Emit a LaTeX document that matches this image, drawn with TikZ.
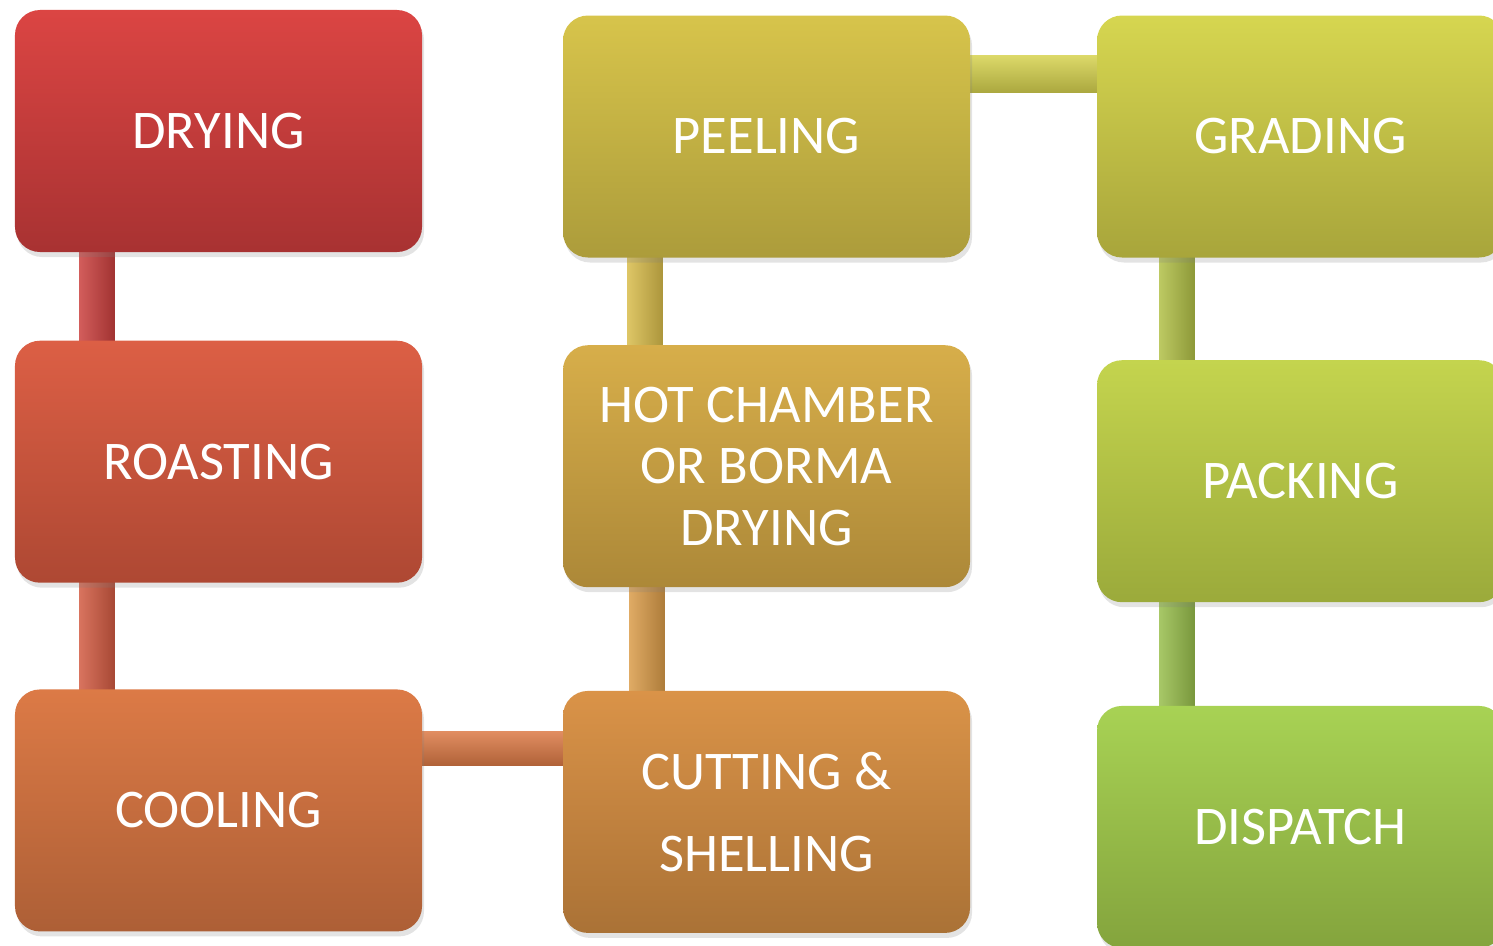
\documentclass[tikz,border=0pt]{standalone}
\usepackage{fontspec}
\setmainfont{Carlito}
\usetikzlibrary{positioning, calc, shadows, backgrounds}

\definecolor{dryingTop}{HTML}{DB4543}
\definecolor{dryingBot}{HTML}{A83232}
\definecolor{roastingTop}{HTML}{DC5F45}
\definecolor{roastingBot}{HTML}{AE4833}
\definecolor{coolingTop}{HTML}{DC7A46}
\definecolor{coolingBot}{HTML}{AD5F36}
\definecolor{peelingTop}{HTML}{D7C44B}
\definecolor{peelingBot}{HTML}{AC9C3B}
\definecolor{hotTop}{HTML}{D7AE4A}
\definecolor{hotBot}{HTML}{AC8838}
\definecolor{cuttingTop}{HTML}{DA9348}
\definecolor{cuttingBot}{HTML}{AA7236}
\definecolor{gradingTop}{HTML}{D6D650}
\definecolor{gradingBot}{HTML}{A8A53B}
\definecolor{packingTop}{HTML}{C4D44E}
\definecolor{packingBot}{HTML}{9BAA3B}
\definecolor{dispatchTop}{HTML}{A8D254}
\definecolor{dispatchBot}{HTML}{84A43D}

\tikzset{
  stage/.style={rectangle, rounded corners=5mm, minimum width=81.4mm, minimum height=48.4mm,
    inner sep=0pt, text=white, align=center, font=\fontsize{31}{35}\selectfont,
    drop shadow={opacity=0.22, shadow xshift=0.4mm, shadow yshift=-1mm}},
  vpipe/.style={left color=#1!85!white, middle color=#1, right color=#1!80!black},
  hpipe/.style={top color=#1!85!white, middle color=#1, bottom color=#1!80!black}
}

\begin{document}
\begin{tikzpicture}[x=0.2mm, y=-0.2mm]
\useasboundingbox (0,0) rectangle (1493,945);
\clip (0,0) rectangle (1493,945);

% first column
\node[stage, top color=dryingTop, bottom color=dryingBot] (drying) at (218.5,131) {DRYING};
\node[stage, top color=roastingTop, bottom color=roastingBot, below=17.6mm of drying] (roasting) {ROASTING};
\node[stage, top color=coolingTop, bottom color=coolingBot, below=21.2mm of roasting] (cooling) {COOLING};

% second column
\node[stage, top color=peelingTop, bottom color=peelingBot] (peeling) at (766.5,136.5) {PEELING};
\node[stage, top color=hotTop, bottom color=hotBot, below=17.4mm of peeling] (hot_chamber) {HOT CHAMBER\\OR BORMA\\DRYING};
\node[stage, top color=cuttingTop, bottom color=cuttingBot, below=20.6mm of hot_chamber] (cutting) {CUTTING \&\\[12pt]SHELLING};

% third column
\node[stage, top color=gradingTop, bottom color=gradingBot] (grading) at (1300.5,136.5) {GRADING};
\node[stage, top color=packingTop, bottom color=packingBot, below=20.4mm of grading] (packing) {PACKING};
\node[stage, top color=dispatchTop, bottom color=dispatchBot, below=20.6mm of packing] (dispatch) {DISPATCH};

% pipes between the stages
\begin{scope}[on background layer]
\path[vpipe=dryingTop!92!black] ($(drying.south west)+(65,-15)$) rectangle ($(roasting.north west)+(100,15)$);
\path[vpipe=roastingTop!95!black] ($(roasting.south west)+(65,-15)$) rectangle ($(cooling.north west)+(100,15)$);
\path[hpipe=coolingTop] ($(cooling.north east)+(-15,42)$) rectangle ($(cutting.north west)+(15,75)$);
\path[vpipe=cuttingTop!70!hotTop] ($(hot_chamber.south west)+(67,-15)$) rectangle ($(cutting.north west)+(102,15)$);
\path[vpipe=peelingTop!60!hotTop] ($(peeling.south west)+(65,-15)$) rectangle ($(hot_chamber.north west)+(100,15)$);
\path[hpipe=gradingTop!80!peelingTop] ($(peeling.north east)+(-15,40)$) rectangle ($(grading.north west)+(15,77)$);
\path[vpipe=packingTop!90!black] ($(grading.south west)+(63,-15)$) rectangle ($(packing.north west)+(98,15)$);
\path[vpipe=dispatchTop!90!black] ($(packing.south west)+(63,-15)$) rectangle ($(dispatch.north west)+(98,15)$);
\end{scope}
\end{tikzpicture}
\end{document}
